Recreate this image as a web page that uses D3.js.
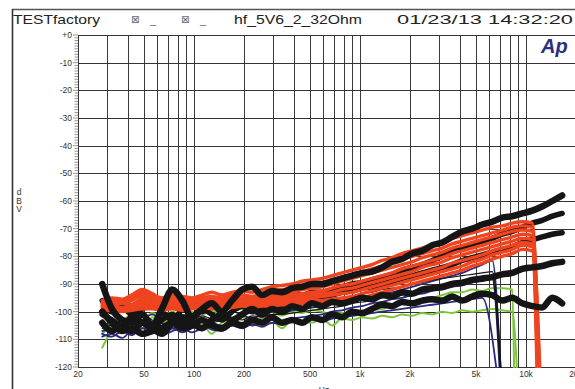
<!DOCTYPE html>
<html><head><meta charset="utf-8">
<script src="https://cdn.jsdelivr.net/npm/d3@7"></script>
<style>body{margin:0;background:#fff}svg{display:block}</style>
</head><body><svg id="c" width="575" height="389"></svg>
<script>
// ---------- data ----------
const freqs = [28, 32, 37, 42, 49, 56, 64, 74, 85, 97, 112, 128, 147, 169, 195, 224, 257, 295, 339, 390, 448, 514, 591, 679, 780, 896, 1030, 1180, 1360, 1560, 1790, 2060, 2370, 2720, 3130, 3590, 4130, 4740, 5450, 6260, 7190, 8260, 9490, 10900, 12500, 14400, 16500];

const xTicks = [20, 50, 100, 200, 500, 1000, 2000, 5000, 10000, 20000];
const xTickLabels = ["20", "50", "100", "200", "500", "1k", "2k", "5k", "10k", "20k"];
const yTicks = [0, -10, -20, -30, -40, -50, -60, -70, -80, -90, -100, -110, -120];
const yTickLabels = ["+0", "-10", "-20", "-30", "-40", "-50", "-60", "-70", "-80", "-90", "-100", "-110", "-120"];

// green traces (drop out near 8.5-9 kHz)
const green1 = [-113, -107, -105, -103, -106, -102, -104, -102, -104, -102.5, -104, -108, -104, -103, -102, -104, -102.5, -103, -106, -103, -103.5, -104, -102.5, -105, -102.5, -103, -102, -102.5, -101.5, -102, -101, -101.5, -100.5, -101, -100, -100.5, -99.5, -100, -99.5, -99, -99.5, -100];
const green2 = [-108, -105, -103, -101.5, -103, -100.5, -102, -100, -101.5, -100, -101, -99.5, -101, -100, -99, -100.5, -99.5, -100, -101.5, -100, -100.5, -99.5, -100, -101, -100.5, -101, -100, -99.5, -99, -98, -97, -96.5, -95.5, -95, -94, -93, -93, -92, -92.5, -91.5, -91.5, -92];
const greenDrop = [8900, 8500];

// blue traces (drop out near 7 kHz)
const blue1 = [-107, -106, -105.5, -106, -103, -101, -104, -106, -105, -104.5, -103, -104, -105, -103, -101.5, -102.5, -101, -100, -100.5, -99.5, -99, -98.5, -98, -97, -96.5, -96, -95, -94.5, -93.5, -93, -92, -91, -90, -89, -88, -87, -86, -84.5, -83, -81.5];
const blue2 = [-108, -109, -107, -108.5, -106, -107, -108, -106, -107.5, -106, -105, -106.5, -107, -105, -104, -105, -104, -103, -104, -102.5, -102, -101.5, -101, -100, -99.5, -98.5, -98, -97, -96.5, -95.5, -95, -94, -93.5, -92.5, -92, -91, -90.5, -89.5, -89, -88];
const blue3 = [-109, -108, -109.5, -107, -108, -106.5, -108.5, -107, -106, -107.5, -106, -105.5, -106.5, -105, -106, -104.5, -105.5, -104, -104.5, -103.5, -104, -103, -103.5, -102.5, -102, -101.5, -101, -100.5, -100, -99.5, -99, -98.5, -98, -97.5, -97, -96.5, -96, -95.5, -95];
const blueDrop = [7100, 7000, 6800];

// thin black traces
const thin1 = [-104, -105, -103, -104.5, -102, -103, -105, -103.5, -102, -103, -101.5, -102.5, -101, -100, -101, -99.5, -100, -99, -98.5, -99, -97.5, -97, -96.5, -96, -95, -94.5, -93.5, -93, -92, -91.5, -91, -90, -89.5, -88.5, -88, -87.5, -87, -86.5, -86, -85.5];
const thin2 = [-106, -107, -105.5, -106, -104.5, -105, -106.5, -105, -104, -105, -103.5, -104, -103, -102.5, -103, -101.5, -102, -101, -101, -100.5, -100, -99.5, -99, -98.5, -98, -97, -96.5, -96, -95, -94.5, -94, -93, -92.5, -91.5, -91, -90.5, -89.5, -89, -88.5, -88];
const thinDrop = [7150, 7050];

// red traces (drop out near 12 kHz)
const red1 = [-96, -95, -95.5, -94, -92, -93.5, -95, -94, -94.5, -95, -94, -93, -94, -93, -92.5, -93, -92, -91, -90.5, -90, -89, -88.5, -88, -87, -86, -85, -84, -83, -81.5, -80.5, -79, -78, -77, -76, -75, -73.5, -72.5, -71.5, -70.5, -69.5, -69, -68, -67.5, -68];
const red2 = [-97, -96, -96.5, -95, -93, -94, -96, -95, -95.5, -96, -95, -94.5, -95, -94, -94, -94.5, -93.5, -92.5, -92, -91.5, -90.5, -90, -89.5, -88.5, -87.5, -86.5, -85.5, -84.5, -83.5, -82.5, -81, -80, -79, -78, -77, -75.5, -74.5, -73.5, -72.5, -71.5, -70.5, -69.5, -69, -69.5];
const red3 = [-98, -97, -97, -96, -94, -95, -97, -96, -96.5, -96.5, -96, -95.5, -96, -95, -95, -95.5, -94.5, -94, -93.5, -93, -92, -91.5, -91, -90, -89, -88, -87, -86, -85, -84, -83, -82, -80.5, -79.5, -78.5, -77, -76, -75, -74, -73, -72, -71, -70.5, -71];
const red4 = [-97.5, -98, -97, -97.5, -95, -96, -97.5, -96.5, -97, -97.5, -96.5, -96, -96.5, -96, -95.5, -96, -95.5, -95, -94.5, -94, -93.5, -93, -92.5, -91.5, -90.5, -90, -89, -88, -87, -86, -84.5, -83.5, -82.5, -81.5, -80.5, -79, -78, -77, -76, -75, -74, -73, -72, -72.5];
const red5 = [-98.5, -98, -98.5, -97.5, -96, -97, -98, -97.5, -98, -97.5, -97, -97.5, -97, -96.5, -96.5, -96.5, -96, -96, -95.5, -95, -94.5, -94, -93.5, -93, -92, -91.5, -90.5, -89.5, -88.5, -87.5, -86.5, -85.5, -84, -83, -82, -80.5, -79.5, -78.5, -77.5, -76.5, -75.5, -74.5, -73.5, -74];
const red6 = [-99, -98.5, -99, -98, -97, -97.5, -98.5, -98, -98.5, -98, -97.5, -98, -97.5, -97, -97, -97.5, -97, -96.5, -96.5, -96, -95.5, -95, -94.5, -94, -93.5, -93, -92, -91, -90, -89, -88, -87, -86, -85, -84, -82.5, -81.5, -80.5, -79.5, -78, -77, -76, -75, -75.5];
const red7 = [-99.5, -99, -99.5, -99, -98, -98.5, -99, -98.5, -99, -98.5, -98, -98.5, -98, -98, -97.5, -98, -97.5, -97.5, -97, -97, -96.5, -96, -96, -95.5, -95, -94.5, -93.5, -92.5, -91.5, -90.5, -89.5, -88.5, -87.5, -86.5, -85.5, -84.5, -83.5, -82, -81, -79.5, -78.5, -77.5, -76, -76.5];
const red8 = [-100, -99.5, -100, -99.5, -99, -99, -99.5, -99, -99.5, -99, -98.5, -99, -98.5, -98.5, -98, -98.5, -98, -98, -97.5, -97.5, -97, -97, -96.5, -96.5, -96, -95.5, -95, -94, -93, -92, -91, -90, -89, -88, -87, -86, -85, -83.5, -82.5, -81, -80, -79, -77.5, -78];
const redDrop = [12000, 11900, 12100, 11800, 12200, 11700, 12000, 11900];

// thick black traces (full band)
const black1 = [-90, -99, -103, -104, -101, -105, -99, -92, -96, -102, -99, -97, -100, -96, -92, -91, -94, -92.5, -93, -91.5, -91, -90, -90, -89, -88, -87, -86, -85.5, -84, -82, -81, -79, -78, -76, -75, -73, -71, -70, -68.5, -67.5, -66, -65.5, -64.5, -63.5, -62, -60, -58];
const black2 = [-96, -100, -98, -101, -99, -97, -100, -103, -99, -97, -100, -98, -96, -98, -97, -95, -97, -95, -96, -94, -94, -93, -93, -92, -91, -90, -89.5, -88.5, -87.5, -86.5, -85, -84, -83, -81.5, -80, -78.5, -77, -76, -74.5, -73.5, -72, -71, -69.5, -68, -67, -65.5, -64.5];
const black3 = [-101, -103, -105, -102, -104, -106, -103, -101, -104, -102, -99, -101, -103, -100, -98, -100, -99, -97, -98, -96.5, -96, -95, -95, -94, -93, -92.5, -91.5, -91, -90, -89, -88, -87, -86, -85, -84, -83, -81.5, -80.5, -79.5, -78.5, -77.5, -76.5, -75, -74, -73, -72, -71.5];
const black4 = [-104, -107, -105, -107, -104, -106, -108, -104, -102, -104, -106, -103, -101, -103, -101, -99, -101, -99, -100, -98, -99, -97, -98, -96.5, -97, -96, -95, -95.5, -94, -94.5, -93, -93.5, -92, -91.5, -91, -90, -89.5, -88.5, -88, -87.5, -86.5, -86, -84.5, -84, -83.5, -82.5, -82];
const black5 = [-100, -104, -107, -106, -108, -107, -106, -104, -106, -105, -103, -105, -106, -104, -105, -103, -104, -102, -104, -103, -104, -102, -103, -101, -102, -100, -100.5, -99, -97.5, -98, -96.5, -97, -96, -95.5, -96, -94.5, -96, -94.5, -93.5, -94, -96, -95, -97, -98, -98.5, -95, -97];

// ---------- drawing ----------
const svg = d3.select("#c");
const W = 575, H = 389;
const x = d3.scaleLog().domain([20, 20000]).range([78, 576]);
const y = d3.scaleLinear().domain([-120, 0]).range([367, 35]);
const DROP_LEVEL = -126;

svg.append("rect").attr("width", W).attr("height", H).attr("fill", "#fff");

// frame
svg.append("line").attr("x1", 12).attr("x2", W).attr("y1", 9.5).attr("y2", 9.5).attr("stroke", "#555").attr("stroke-width", 1.5);
svg.append("line").attr("x1", 12.5).attr("x2", 12.5).attr("y1", 9).attr("y2", H).attr("stroke", "#333").attr("stroke-width", 1.6);

// title row
const titleFont = "'Liberation Sans', Arial, sans-serif";
const title = svg.append("g").attr("font-family", titleFont).attr("fill", "#222");
title.append("text").attr("x", 13).attr("y", 24).attr("font-size", 13).attr("textLength", 87).attr("lengthAdjust", "spacingAndGlyphs").text("TESTfactory");
title.append("text").attr("x", 131).attr("y", 23).attr("font-size", 10).attr("fill", "#666").attr("font-family", "'DejaVu Sans'").text("⊠");
title.append("text").attr("x", 150).attr("y", 24).attr("font-size", 11).attr("fill", "#666").text("_");
title.append("text").attr("x", 181).attr("y", 23).attr("font-size", 10).attr("fill", "#666").attr("font-family", "'DejaVu Sans'").text("⊠");
title.append("text").attr("x", 200).attr("y", 24).attr("font-size", 11).attr("fill", "#666").text("_");
title.append("text").attr("x", 234).attr("y", 24).attr("font-size", 13).attr("textLength", 128).attr("lengthAdjust", "spacingAndGlyphs").text("hf_5V6_2_32Ohm");
title.append("text").attr("x", 397).attr("y", 24).attr("font-size", 13).attr("textLength", 176).attr("lengthAdjust", "spacingAndGlyphs").text("01/23/13 14:32:20");

// grid
const grid = svg.append("g");
const vLines = [];
[10, 100, 1000, 10000].forEach(dec => { for (let m = 1; m <= 9; m++) { const f = dec * m; if (f >= 20 && f <= 20000) vLines.push(f); } });
vLines.push(20000);
grid.selectAll("line.v").data(vLines).join("line")
  .attr("x1", d => Math.round(x(d)) + 0.5).attr("x2", d => Math.round(x(d)) + 0.5)
  .attr("y1", y(0)).attr("y2", y(-120))
  .attr("stroke", "#3a3a3a").attr("stroke-width", 1);
grid.selectAll("line.h").data(yTicks).join("line")
  .attr("x1", x(20)).attr("x2", W)
  .attr("y1", d => Math.round(y(d)) + 0.5).attr("y2", d => Math.round(y(d)) + 0.5)
  .attr("stroke", "#333").attr("stroke-width", 1.2);

// left ruler ticks (1 dB)
const rulerTicks = d3.range(-120, 1, 1);
svg.append("g").selectAll("line").data(rulerTicks).join("line")
  .attr("x1", d => d % 10 === 0 ? 73 : 74.5).attr("x2", 78)
  .attr("y1", d => y(d)).attr("y2", d => y(d))
  .attr("stroke", "#666").attr("stroke-width", 0.7);

// axis labels
const axisFont = "'Liberation Sans', Arial, sans-serif";
svg.append("g").selectAll("text").data(yTicks).join("text")
  .attr("x", 72).attr("y", d => y(d) + 3)
  .attr("text-anchor", "end").attr("font-family", axisFont).attr("font-size", 8.5).attr("fill", "#333")
  .text((d, i) => yTickLabels[i]);
svg.append("g").selectAll("text").data(xTicks).join("text")
  .attr("x", d => x(d)).attr("y", 377)
  .attr("text-anchor", "middle").attr("font-family", axisFont).attr("font-size", 8.5).attr("fill", "#333")
  .text((d, i) => xTickLabels[i]);
["d", "B", "V"].forEach((ch, i) => {
  svg.append("text").attr("x", 19).attr("y", 195 + i * 8.5).attr("text-anchor", "middle")
    .attr("font-family", axisFont).attr("font-size", 8.5).attr("fill", "#333").text(ch);
});
svg.append("text").attr("x", 324).attr("y", 393).attr("text-anchor", "middle")
  .attr("font-family", axisFont).attr("font-size", 8.5).attr("fill", "#333").text("Hz");

// logo
svg.append("text").attr("x", 541).attr("y", 53).attr("font-family", axisFont).attr("font-weight", "bold")
  .attr("font-style", "italic").attr("font-size", 20).attr("fill", "#2d2d84").text("Ap");

// traces
svg.append("clipPath").attr("id", "plotclip").append("rect")
  .attr("x", x(20)).attr("y", y(0)).attr("width", W - x(20)).attr("height", y(-120) - y(0) + 1);
const plot = svg.append("g").attr("clip-path", "url(#plotclip)");
const line = d3.line().x(d => x(d[0])).y(d => y(d[1])).curve(d3.curveMonotoneX);

function pts(vals, drop) {
  const p = vals.map((v, i) => [freqs[i], v]);
  if (drop) p.push([drop, DROP_LEVEL]);
  return p;
}
function draw(vals, drop, color, width) {
  plot.append("path").attr("d", line(pts(vals, drop)))
    .attr("fill", "none").attr("stroke", color).attr("stroke-width", width)
    .attr("stroke-linejoin", "round").attr("stroke-linecap", "round");
}

const GREEN = "#7cc63a", BLUE = "#2a2a7e", RED = "#ee4420", BLACK = "#151515";
[green1, green2].forEach((s, i) => draw(s, greenDrop[i], GREEN, 2));
[blue1, blue2, blue3].forEach((s, i) => draw(s, blueDrop[i], BLUE, 1.8));
[thin1, thin2].forEach((s, i) => draw(s, thinDrop[i], BLACK, 1.2));
draw(black2, null, BLACK, 5.5);
draw(black3, null, BLACK, 5.5);
[red1, red2, red3, red4, red5, red6, red7, red8].forEach((s, i) => draw(s, redDrop[i], RED, 3.4));
draw(black5, null, BLACK, 6.5);
draw(black4, null, BLACK, 6.5);
draw(black1, null, BLACK, 6.5);
</script>
</body></html>
